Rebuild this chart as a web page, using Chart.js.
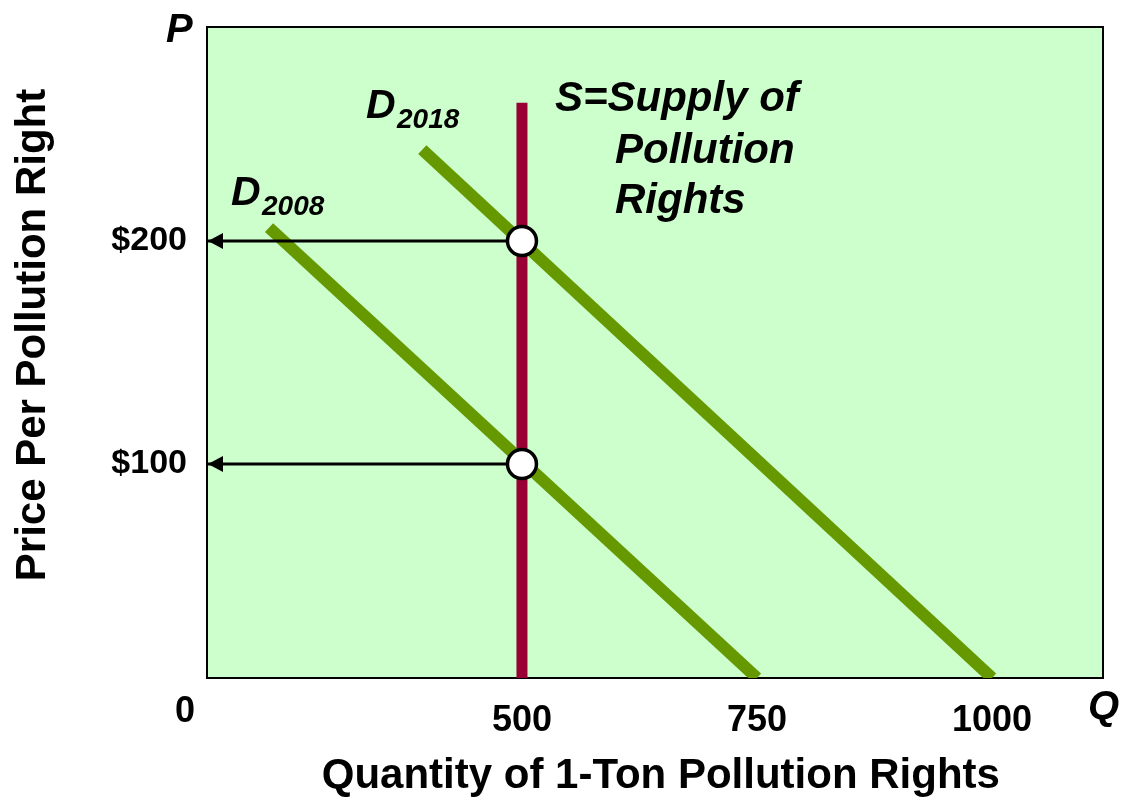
<!DOCTYPE html>
<html>
<head>
<meta charset="utf-8">
<script src="https://cdn.jsdelivr.net/npm/chart.js@4"></script>
<style>
  html, body { margin: 0; padding: 0; background: #fff; }
  canvas { display: block; }
</style>
</head>
<body>
<canvas id="pollution" width="1121" height="802"></canvas>
<script>
// values (Q in tons, P in $)
// the Q axis is schematic: "0" sits at the corner, the scale itself starts near 165
const qRange = [165, 1118];
const pRange = [4, 296];
const qTicks = [500, 750, 1000];
const pTicks = [100, 200];

const d2008Q = [231, 750];
const d2008P = [206, 4];
const d2018Q = [394, 1000];
const d2018P = [241, 4];
const supplyQ = [500, 500];
const supplyP = [4, 262];
const eqQ = [500, 500];
const eqP = [200, 100];

const FONT = "'Liberation Sans', Arial, Helvetica, sans-serif";
const GREEN = "#669900";
const MAROON = "#990033";

const pts = (xs, ys) => xs.map((x, i) => ({ x: x, y: ys[i] }));

// price arrows run from each equilibrium back to the P axis
const arrows = eqQ.map((q, i) => ({
  type: "line",
  label: "arrow" + i,
  arrow: true,
  data: pts([q, qRange[0]], [eqP[i], eqP[i]]),
  borderColor: "#000",
  borderWidth: 3,
  pointRadius: 0,
  order: 1,
}));

const backdrop = {
  id: "backdrop",
  beforeDatasetsDraw(chart) {
    const { ctx, chartArea: a } = chart;
    ctx.save();
    ctx.fillStyle = "#CCFFCC";
    ctx.fillRect(a.left, a.top, a.right - a.left, a.bottom - a.top);
    ctx.strokeStyle = "#000";
    ctx.lineWidth = 2;
    ctx.strokeRect(a.left, a.top, a.right - a.left, a.bottom - a.top);
    ctx.restore();
  },
};

const arrowheads = {
  id: "arrowheads",
  afterDatasetsDraw(chart) {
    const ctx = chart.ctx;
    chart.data.datasets.forEach((ds, i) => {
      if (!ds.arrow) return;
      const pts = chart.getDatasetMeta(i).data;
      const tip = pts[pts.length - 1];
      ctx.save();
      ctx.fillStyle = "#000";
      ctx.beginPath();
      ctx.moveTo(tip.x + 1, tip.y);
      ctx.lineTo(tip.x + 16, tip.y - 8);
      ctx.lineTo(tip.x + 16, tip.y + 8);
      ctx.closePath();
      ctx.fill();
      ctx.restore();
    });
  },
};

const text = (ctx, s, x, y, size, italic, align) => {
  ctx.font = (italic ? "italic " : "") + "bold " + size + "px " + FONT;
  ctx.textAlign = align || "left";
  ctx.textBaseline = "alphabetic";
  ctx.fillText(s, x, y);
};

const labels = {
  id: "labels",
  afterDraw(chart) {
    const ctx = chart.ctx;
    ctx.save();
    ctx.fillStyle = "#000";
    text(ctx, "P", 166, 42, 40, true);
    text(ctx, "Q", 1088, 719, 40, true);
    text(ctx, "0", 185, 722, 36, false, "center");

    text(ctx, "D", 366, 118, 41, true);
    text(ctx, "2018", 397, 128, 28, true);
    text(ctx, "D", 231, 205, 41, true);
    text(ctx, "2008", 262, 215, 28, true);

    text(ctx, "S=Supply of", 555, 111, 42, true);
    text(ctx, "Pollution", 615, 163, 42, true);
    text(ctx, "Rights", 615, 213, 42, true);
    ctx.restore();
  },
};

const init = function () {
  new Chart(document.getElementById("pollution"), {
    type: "line",
    data: {
      datasets: [
        {
          type: "scatter",
          label: "Equilibrium",
          data: pts(eqQ, eqP),
          pointRadius: 14.5,
          pointBackgroundColor: "#fff",
          pointBorderColor: "#000",
          pointBorderWidth: 3.5,
          order: 0,
        },
        ...arrows,
        {
          label: "S",
          data: pts(supplyQ, supplyP),
          borderColor: MAROON,
          borderWidth: 11,
          pointRadius: 0,
          order: 3,
        },
        {
          label: "D2018",
          data: pts(d2018Q, d2018P),
          borderColor: GREEN,
          borderWidth: 12,
          pointRadius: 0,
          order: 2,
        },
        {
          label: "D2008",
          data: pts(d2008Q, d2008P),
          borderColor: GREEN,
          borderWidth: 12,
          pointRadius: 0,
          order: 2,
        },
      ],
    },
    options: {
      responsive: false,
      animation: false,
      devicePixelRatio: 1,
      events: [],
      layout: { padding: { top: 27, right: 18, left: 0, bottom: 0 } },
      elements: { line: { tension: 0, borderCapStyle: "butt" } },
      plugins: {
        legend: { display: false },
        tooltip: { enabled: false },
      },
      scales: {
        x: {
          type: "linear",
          min: qRange[0],
          max: qRange[1],
          grid: { display: false, drawTicks: false },
          border: { display: false },
          afterBuildTicks: (s) => {
            s.ticks = qTicks.map((v) => ({ value: v }));
          },
          afterFit: (s) => {
            s.height = 124;
            s.paddingLeft = 0;
            s.paddingRight = 0;
          },
          ticks: {
            color: "#000",
            padding: 21,
            maxRotation: 0,
            autoSkip: false,
            font: { family: FONT, size: 36, weight: "bold" },
            callback: (v) => String(v),
          },
          title: {
            display: true,
            // leading space nudges the centred title right, as in the picture
            text: " Quantity of 1-Ton Pollution Rights",
            color: "#000",
            padding: { top: 0, bottom: 0 },
            font: { family: FONT, size: 42, weight: "bold" },
          },
        },
        y: {
          type: "linear",
          min: pRange[0],
          max: pRange[1],
          grid: { display: false, drawTicks: false },
          border: { display: false },
          afterBuildTicks: (s) => {
            s.ticks = pTicks.map((v) => ({ value: v }));
          },
          afterFit: (s) => {
            s.width = 207;
            s.paddingTop = 0;
            s.paddingBottom = 0;
          },
          ticks: {
            color: "#000",
            padding: 20,
            autoSkip: false,
            font: { family: FONT, size: 34, weight: "bold" },
            callback: (v) => "$" + v,
          },
          title: {
            display: true,
            // leading spaces lift the rotated title, as in the picture
            text: "   Price Per Pollution Right",
            color: "#000",
            padding: { top: 8, bottom: 0 },
            font: { family: FONT, size: 42, weight: "bold" },
          },
        },
      },
    },
    plugins: [backdrop, arrowheads, labels],
  });
};

document.addEventListener("DOMContentLoaded", init);
</script>
</body>
</html>
